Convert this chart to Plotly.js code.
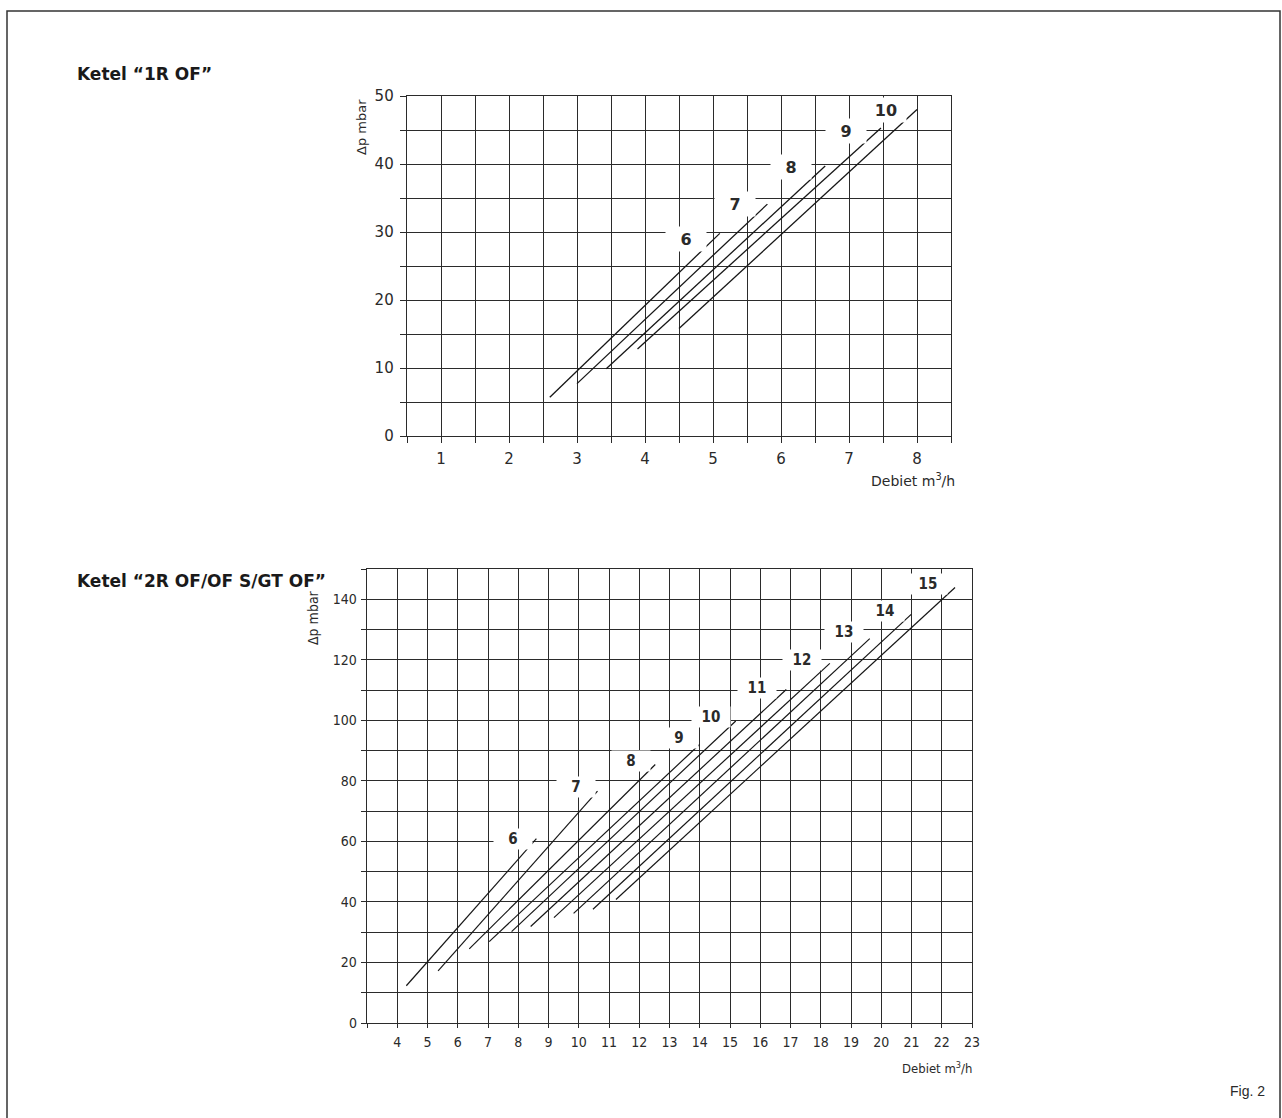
<!DOCTYPE html>
<html>
<head>
<meta charset="utf-8">
<script src="https://cdn.plot.ly/plotly-3.0.1.min.js"></script>
<style>
html,body{margin:0;padding:0;background:#fff;}
#chart{width:1282px;height:1118px;}
</style>
</head>
<body>
<div id="chart"></div>
<script>
// ---------- Data: Ketel "1R OF" ----------
const labels1 = ['6', '7', '8', '9', '10'];
const flowStart1 = [2.6, 3.0, 3.43, 3.89, 4.5];
const dpStart1   = [5.7, 7.7, 9.9, 12.8, 15.8];
const flowEnd1   = [5.1, 5.8, 6.65, 7.47, 8.0];
const dpEnd1     = [29.8, 34.1, 39.7, 45.3, 48.0];
const labelX1    = [4.6, 5.33, 6.14, 6.95, 7.55];
const labelY1    = [28.9, 34.1, 39.6, 44.9, 47.9];
const xTicks1    = [1, 2, 3, 4, 5, 6, 7, 8];
const yTicks1    = [0, 10, 20, 30, 40, 50];

// ---------- Data: Ketel "2R OF/OF S/GT OF" ----------
const labels2 = ['6', '7', '8', '9', '10', '11', '12', '13', '14', '15'];
const flowStart2 = [4.3, 5.35, 6.38, 7.04, 7.78, 8.41, 9.18, 9.83, 10.47, 11.23];
const dpStart2   = [12.3, 17.2, 24.5, 26.9, 30.2, 31.9, 34.8, 36.2, 37.6, 40.8];
const flowEnd2   = [8.6, 10.62, 12.53, 13.99, 15.19, 16.86, 18.3, 19.62, 20.99, 22.44];
const dpEnd2     = [60.9, 76.6, 85.4, 92.0, 99.8, 110.2, 118.8, 127.0, 135.0, 143.9];
const labelX2    = [7.82, 9.91, 11.73, 13.31, 14.37, 15.9, 17.37, 18.78, 20.13, 21.55];
const labelY2    = [60.9, 78.0, 86.5, 94.0, 101.1, 110.8, 119.9, 129.1, 136.1, 145.0];
const xTicks2    = [4, 5, 6, 7, 8, 9, 10, 11, 12, 13, 14, 15, 16, 17, 18, 19, 20, 21, 22, 23];
const yTicks2    = [0, 20, 40, 60, 80, 100, 120, 140];

const title1 = 'Ketel \u201c1R OF\u201d';
const title2 = 'Ketel \u201c2R OF/OF S/GT OF\u201d';
const yTitle = '\u0394p mbar';
const xTitle = 'Debiet m<sup>3</sup>/h';
const figText = 'Fig. 2';

// ---------- Styling ----------
const W = 1282, H = 1118;
const px = v => v / W;
const py = v => 1 - v / H;
const gridCol = '#2b2b2b';
const lineCol = '#161616';
const textCol = '#2a2a2a';
const fontTop = 'DejaVu Sans, Verdana, sans-serif';
const fontBot = 'DejaVu Sans Condensed, Liberation Sans Narrow, Arial Narrow, sans-serif';

const traces = [];
labels1.forEach((lab, i) => {
  traces.push({
    x: [flowStart1[i], flowEnd1[i]], y: [dpStart1[i], dpEnd1[i]],
    mode: 'lines', line: {color: lineCol, width: 1.3},
    xaxis: 'x', yaxis: 'y', hoverinfo: 'skip', name: lab
  });
});
labels2.forEach((lab, i) => {
  traces.push({
    x: [flowStart2[i], flowEnd2[i]], y: [dpStart2[i], dpEnd2[i]],
    mode: 'lines', line: {color: lineCol, width: 1.2},
    xaxis: 'x2', yaxis: 'y2', hoverinfo: 'skip', name: lab
  });
});

const annotations = [];
labels1.forEach((lab, i) => {
  annotations.push({
    xref: 'x', yref: 'y', x: labelX1[i], y: labelY1[i], text: '<b>' + lab + '</b>',
    showarrow: false, bgcolor: '#ffffff', width: 40, height: 24, borderpad: 0,
    font: {family: fontTop, size: 16, color: textCol}
  });
});
labels2.forEach((lab, i) => {
  annotations.push({
    xref: 'x2', yref: 'y2', x: labelX2[i], y: labelY2[i], text: '<b>' + lab + '</b>',
    showarrow: false, bgcolor: '#ffffff', width: 38, height: 20, borderpad: 0,
    font: {family: fontBot, size: 15, color: textCol}
  });
});
// titles and free text
annotations.push(
  {xref: 'paper', yref: 'paper', x: px(75), y: py(74), xanchor: 'left', yanchor: 'middle',
   text: '<b>' + title1 + '</b>', showarrow: false, font: {family: fontTop, size: 17, color: '#1a1a1a'}},
  {xref: 'paper', yref: 'paper', x: px(75), y: py(581), xanchor: 'left', yanchor: 'middle',
   text: '<b>' + title2 + '</b>', showarrow: false, font: {family: fontTop, size: 17, color: '#1a1a1a'}},
  {xref: 'paper', yref: 'paper', x: px(361), y: py(127), xanchor: 'center', yanchor: 'middle',
   text: yTitle, textangle: -90, showarrow: false, font: {family: fontTop, size: 13, color: textCol}},
  {xref: 'paper', yref: 'paper', x: px(313), y: py(618), xanchor: 'center', yanchor: 'middle',
   text: yTitle, textangle: -90, showarrow: false, font: {family: fontBot, size: 14, color: textCol}},
  {xref: 'paper', yref: 'paper', x: px(957), y: py(480), xanchor: 'right', yanchor: 'middle',
   text: xTitle, showarrow: false, font: {family: fontTop, size: 14, color: textCol}},
  {xref: 'paper', yref: 'paper', x: px(974), y: py(1068), xanchor: 'right', yanchor: 'middle',
   text: xTitle, showarrow: false, font: {family: fontBot, size: 13, color: textCol}},
  {xref: 'paper', yref: 'paper', x: px(1267), y: py(1091), xanchor: 'right', yanchor: 'middle',
   text: figText, showarrow: false, font: {family: 'Liberation Sans, Arial, sans-serif', size: 14, color: textCol}}
);

const axBase = {
  showline: true, mirror: true, linecolor: '#2b2b2b', linewidth: 1.3,
  showgrid: true, gridcolor: gridCol, gridwidth: 1, zeroline: false,
  ticks: 'outside', tickcolor: '#2b2b2b', ticklen: 6, tickwidth: 1,
  fixedrange: true
};

const layout = {
  width: W, height: H,
  margin: {l: 0, r: 0, t: 0, b: 0},
  paper_bgcolor: '#ffffff', plot_bgcolor: '#ffffff',
  showlegend: false,
  xaxis: Object.assign({}, axBase, {
    domain: [px(407), px(951)], range: [0.5, 8.5], anchor: 'y',
    tickmode: 'array', tickvals: xTicks1, ticktext: xTicks1.map(String),
    tickfont: {family: fontTop, size: 15, color: textCol}, ticklabelstandoff: 3,
    minor: {dtick: 0.5, tick0: 0.5, showgrid: true, gridcolor: gridCol, gridwidth: 1,
            ticks: 'outside', ticklen: 6, tickcolor: '#2b2b2b'}
  }),
  yaxis: Object.assign({}, axBase, {
    domain: [py(436), py(96)], range: [0, 50], anchor: 'x',
    tickmode: 'array', tickvals: yTicks1, ticktext: yTicks1.map(String),
    tickfont: {family: fontTop, size: 15, color: textCol}, ticklabelstandoff: 3,
    minor: {dtick: 5, tick0: 0, showgrid: true, gridcolor: gridCol, gridwidth: 1,
            ticks: 'outside', ticklen: 6, tickcolor: '#2b2b2b'}
  }),
  xaxis2: Object.assign({}, axBase, {
    domain: [px(367), px(972)], range: [3, 23], anchor: 'y2',
    tickmode: 'array', tickvals: xTicks2, ticktext: xTicks2.map(String), ticklen: 4,
    tickfont: {family: fontBot, size: 14, color: textCol}, ticklabelstandoff: 2,
    minor: {dtick: 1, tick0: 3, showgrid: true, gridcolor: gridCol, gridwidth: 1,
            ticks: 'outside', ticklen: 4, tickcolor: '#2b2b2b'}
  }),
  yaxis2: Object.assign({}, axBase, {
    domain: [py(1023), py(569)], range: [0, 150], anchor: 'x2',
    tickmode: 'array', tickvals: yTicks2, ticktext: yTicks2.map(String), ticklen: 5,
    tickfont: {family: fontBot, size: 14, color: textCol}, ticklabelstandoff: 1,
    minor: {dtick: 10, tick0: 0, showgrid: true, gridcolor: gridCol, gridwidth: 1,
            ticks: 'outside', ticklen: 5, tickcolor: '#2b2b2b'}
  }),
  shapes: [
    {type: 'rect', xref: 'paper', yref: 'paper', x0: px(7), y0: py(1130), x1: px(1280), y1: py(11),
     line: {color: '#333333', width: 1.5}, fillcolor: 'rgba(0,0,0,0)', layer: 'below'}
  ],
  annotations: annotations
};

Plotly.newPlot('chart', traces, layout, {staticPlot: true, displayModeBar: false});
</script>
</body>
</html>
